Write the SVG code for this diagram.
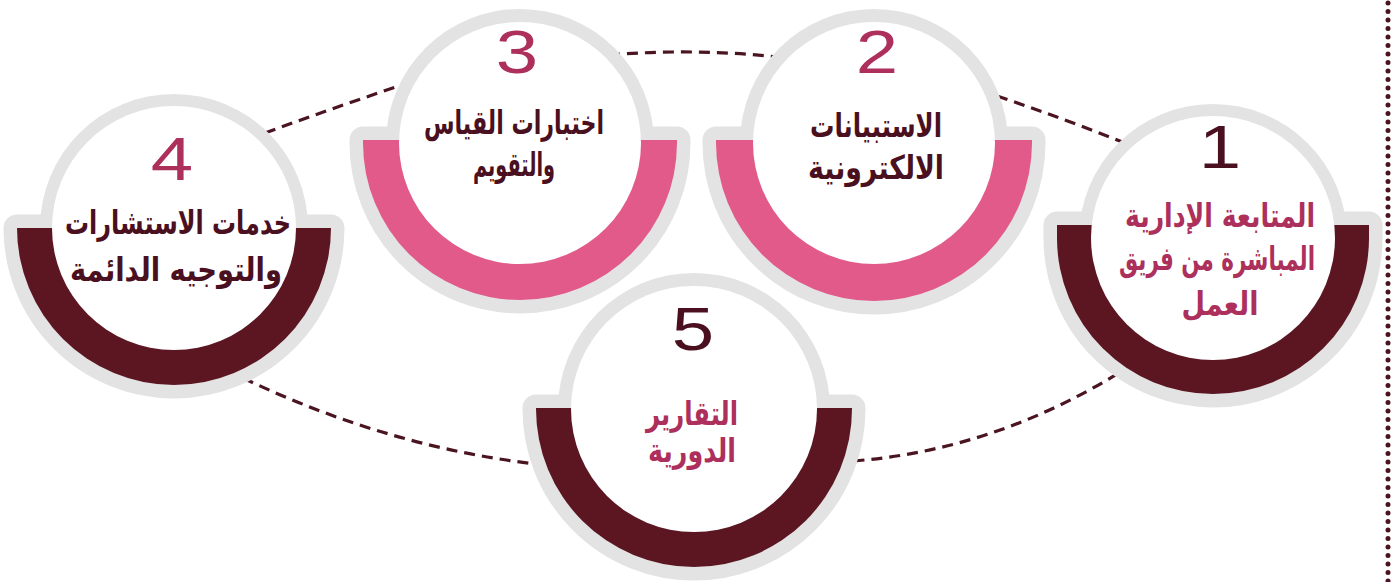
<svg xmlns="http://www.w3.org/2000/svg" width="1394" height="582" viewBox="0 0 1394 582">
<style>
.bg{fill:#ffffff}
.ring{fill:#e3e3e3}
.ringb{fill:#e3e3e3;stroke:#e3e3e3;stroke-width:27;stroke-linejoin:round}
.inner{fill:#ffffff}
.dark{fill:#5b1622}
.pink{fill:#e15a8a}
.num{font-family:"Liberation Sans",Arial,sans-serif;font-size:61px;text-anchor:middle}
.ar{font-family:"DejaVu Sans","Noto Sans",sans-serif;font-weight:bold;text-anchor:middle;font-size:33px}
.cd{fill:#4a1020}
.cp{fill:#ad2f5c}
.conn{fill:none;stroke:#4a1420;stroke-width:3.2;stroke-dasharray:11 7}
.dots{fill:none;stroke:#4a1420;stroke-width:5;stroke-linecap:round;stroke-dasharray:0 8.5}
</style>
<rect class="bg" x="0" y="0" width="1394" height="582"/>
<g id="connectors">
<path class="conn" d="M265,133 Q333,108 402,85"/>
<path class="conn" d="M609,55 Q693,48 778,57"/>
<path class="conn" d="M997,96 Q1062,118 1125,143"/>
<path class="conn" d="M1133,364 Q1000,450 853,461"/>
<path class="conn" d="M243,378 Q392,449 545,465"/>
</g>
<line class="dots" x1="1388" y1="3" x2="1388" y2="582"/>
<g id="node4">
<circle class="ring" cx="174" cy="228" r="134"/>
<path class="ringb" d="M17,228 H331 A157,157 0 0 1 17,228 Z"/>
<path class="dark" d="M17,228 H331 A157,157 0 0 1 17,228 Z"/>
<circle class="inner" cx="174" cy="228" r="122"/>
<text class="num cp" transform="translate(172,180) scale(1.25,1)" x="0" y="0">4</text>
<text class="ar cd" x="178" y="234" textLength="226" lengthAdjust="spacingAndGlyphs">خدمات الاستشارات</text>
<text class="ar cd" x="176" y="281" textLength="212" lengthAdjust="spacingAndGlyphs">والتوجيه الدائمة</text>
</g>
<g id="node3">
<circle class="ring" cx="520" cy="143" r="134"/>
<path class="ringb" d="M363,140 H677 V143 A157,157 0 0 1 363,143 Z"/>
<path class="pink" d="M363,140 H677 V143 A157,157 0 0 1 363,143 Z"/>
<circle class="inner" cx="520" cy="143" r="121"/>
<text class="num cp" transform="translate(517,73) scale(1.25,1)" x="0" y="0">3</text>
<text class="ar cd" x="514" y="134" textLength="180" lengthAdjust="spacingAndGlyphs">اختبارات القياس</text>
<text class="ar cd" x="514" y="176" textLength="82" lengthAdjust="spacingAndGlyphs">والتقويم</text>
</g>
<g id="node2">
<circle class="ring" cx="874" cy="143" r="134"/>
<path class="ringb" d="M716,140 H1032 V143 A158,158 0 0 1 716,143 Z"/>
<path class="pink" d="M716,140 H1032 V143 A158,158 0 0 1 716,143 Z"/>
<circle class="inner" cx="874" cy="143" r="121"/>
<text class="num cp" transform="translate(877,73) scale(1.25,1)" x="0" y="0">2</text>
<text class="ar cd" x="876" y="137" textLength="132" lengthAdjust="spacingAndGlyphs">الاستبيانات</text>
<text class="ar cd" x="876" y="179" textLength="136" lengthAdjust="spacingAndGlyphs">الالكترونية</text>
</g>
<g id="node1">
<circle class="ring" cx="1213" cy="238" r="134"/>
<path class="ringb" d="M1057,225 H1369 V238 A156,156 0 0 1 1057,238 Z"/>
<path class="dark" d="M1057,225 H1369 V238 A156,156 0 0 1 1057,238 Z"/>
<circle class="inner" cx="1213" cy="238" r="122"/>
<text class="num cd" transform="translate(1220,168) scale(1.25,1)" x="0" y="0">1</text>
<text class="ar cp" x="1220" y="227" textLength="190" lengthAdjust="spacingAndGlyphs">المتابعة الإدارية</text>
<text class="ar cp" x="1217" y="270" textLength="196" lengthAdjust="spacingAndGlyphs">المباشرة من فريق</text>
<text class="ar cp" x="1220" y="315" textLength="77" lengthAdjust="spacingAndGlyphs">العمل</text>
</g>
<g id="node5">
<circle class="ring" cx="694" cy="409" r="136"/>
<path class="ringb" d="M536,408 H852 V409 A158,158 0 0 1 536,409 Z"/>
<path class="dark" d="M536,408 H852 V409 A158,158 0 0 1 536,409 Z"/>
<circle class="inner" cx="694" cy="409" r="123"/>
<text class="num cd" transform="translate(693,350) scale(1.25,1)" x="0" y="0">5</text>
<text class="ar cp" x="692" y="425" textLength="92" lengthAdjust="spacingAndGlyphs">التقارير</text>
<text class="ar cp" x="692" y="462" textLength="88" lengthAdjust="spacingAndGlyphs">الدورية</text>
</g>
</svg>
